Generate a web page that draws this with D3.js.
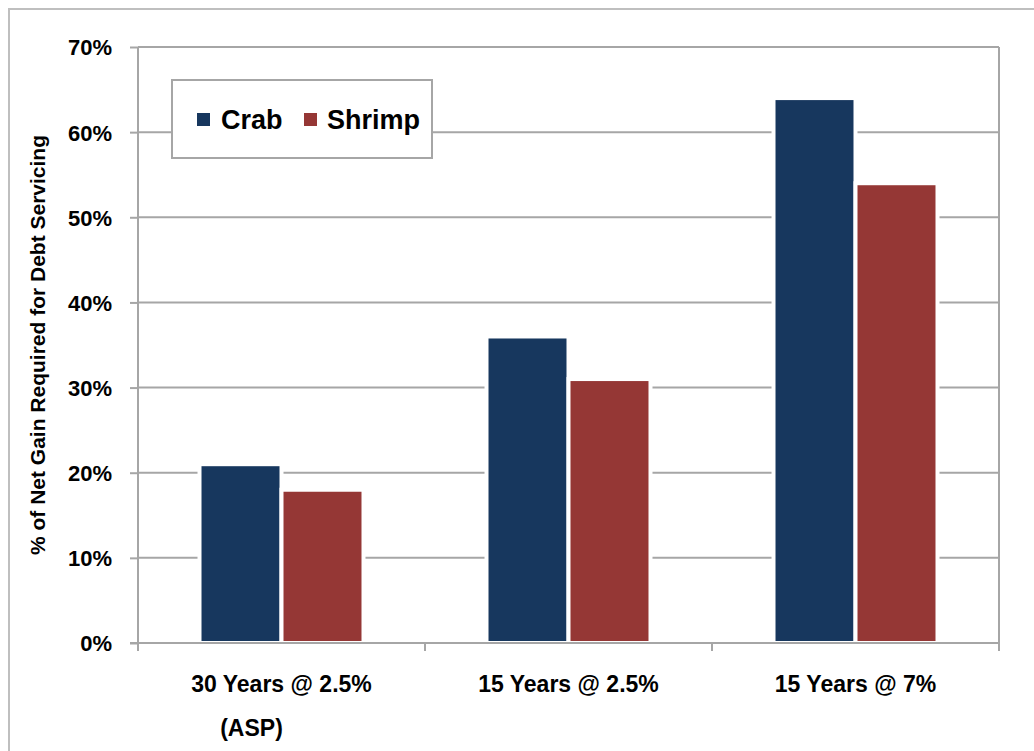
<!DOCTYPE html>
<html>
<head>
<meta charset="utf-8">
<script src="https://cdn.jsdelivr.net/npm/d3@7"></script>
<style>
  html, body { margin: 0; padding: 0; background: #fff; }
  svg { display: block; }
  text { font-family: "Liberation Sans", Arial, sans-serif; font-weight: bold; fill: #000; }
</style>
</head>
<body>
<svg id="chart" width="1034" height="751"></svg>
<script>
// Share of net gain needed to service the debt, by loan scenario
const categories = ["30 Years @ 2.5%", "15 Years @ 2.5%", "15 Years @ 7%"];
const categoryNotes = ["(ASP)", "", ""];
const seriesNames = ["Crab", "Shrimp"];
const crabValues = [21, 36, 64];
const shrimpValues = [18, 31, 54];
const yTickValues = [0, 10, 20, 30, 40, 50, 60, 70];

const seriesColors = { Crab: "#17375e", Shrimp: "#953735" };
const gridColor = "#a6a6a6";

const svg = d3.select("#chart");
const plot = { left: 138, right: 999, top: 47, bottom: 643 };

// outer chart frame
svg.append("rect")
  .attr("x", 9).attr("y", 9)
  .attr("width", 1100).attr("height", 800)
  .attr("fill", "#fff")
  .attr("stroke", "#bfbfbf").attr("stroke-width", 2);

const x = d3.scaleBand()
  .domain(categories)
  .range([plot.left, plot.right])
  .paddingInner(0.4286)
  .paddingOuter(0.2143);

const xSeries = d3.scaleBand()
  .domain(seriesNames)
  .range([0, x.bandwidth()]);

const y = d3.scaleLinear()
  .domain([0, 70])
  .range([plot.bottom, plot.top]);

// horizontal gridlines
svg.append("g")
  .selectAll("line")
  .data(yTickValues)
  .join("line")
  .attr("x1", plot.left).attr("x2", plot.right)
  .attr("y1", d => y(d)).attr("y2", d => y(d))
  .attr("stroke", gridColor).attr("stroke-width", 2);

// plot frame on the right
svg.append("line")
  .attr("x1", plot.right).attr("x2", plot.right)
  .attr("y1", plot.top).attr("y2", plot.bottom + 8)
  .attr("stroke", gridColor).attr("stroke-width", 2);

// bars
const rows = categories.map((c, i) => ({
  category: c,
  values: [
    { series: "Crab", value: crabValues[i] },
    { series: "Shrimp", value: shrimpValues[i] }
  ]
}));

svg.append("g")
  .selectAll("g")
  .data(rows)
  .join("g")
  .attr("transform", d => `translate(${x(d.category)},0)`)
  .selectAll("rect")
  .data(d => d.values)
  .join("rect")
  .attr("x", d => xSeries(d.series))
  .attr("y", d => y(d.value))
  .attr("width", xSeries.bandwidth())
  .attr("height", d => y(0) - y(d.value))
  .attr("fill", d => seriesColors[d.series])
  .attr("stroke", "#fff")
  .attr("stroke-width", 4);

// y axis
const yAxis = d3.axisLeft(y)
  .tickValues(yTickValues)
  .tickFormat(d => d + "%")
  .tickSize(8)
  .tickPadding(18);

const gy = svg.append("g")
  .attr("transform", `translate(${plot.left},0)`)
  .call(yAxis);
gy.select(".domain").attr("stroke", gridColor).attr("stroke-width", 2)
  .attr("d", `M0,${plot.top}V${plot.bottom + 8}`);
gy.selectAll(".tick line").attr("stroke", gridColor).attr("stroke-width", 2);
gy.selectAll(".tick text")
  .style("font-family", '"Liberation Sans", Arial, sans-serif')
  .style("font-weight", "bold")
  .attr("font-size", 22)
  .attr("fill", "#000")
  .attr("dy", "0.36em");

// x axis baseline and category separators
svg.append("line")
  .attr("x1", plot.left - 8).attr("x2", plot.right)
  .attr("y1", y(0)).attr("y2", y(0))
  .attr("stroke", gridColor).attr("stroke-width", 2);

const step = x.step();
svg.append("g")
  .selectAll("line")
  .data(d3.range(categories.length + 1))
  .join("line")
  .attr("x1", i => plot.left + i * step)
  .attr("x2", i => plot.left + i * step)
  .attr("y1", y(0)).attr("y2", y(0) + 8)
  .attr("stroke", gridColor).attr("stroke-width", 2);

// category labels
const labels = svg.append("g")
  .selectAll("g")
  .data(categories)
  .join("g")
  .attr("transform", d => `translate(${x(d) + x.bandwidth() / 2},0)`);

labels.append("text")
  .attr("y", 692)
  .attr("text-anchor", "middle")
  .attr("font-size", 23)
  .text(d => d);

labels.append("text")
  .attr("x", -30)
  .attr("y", 736)
  .attr("text-anchor", "middle")
  .attr("font-size", 23)
  .text((d, i) => categoryNotes[i]);

// y axis title
svg.append("text")
  .attr("transform", `translate(45,${(plot.top + plot.bottom) / 2}) rotate(-90)`)
  .attr("text-anchor", "middle")
  .attr("font-size", 21)
  .text("% of Net Gain Required for Debt Servicing");

// legend
const legend = svg.append("g");
legend.append("rect")
  .attr("x", 172).attr("y", 80)
  .attr("width", 260).attr("height", 78)
  .attr("fill", "#fff")
  .attr("stroke", "#a6a6a6").attr("stroke-width", 2);

const legendItems = [
  { name: seriesNames[0], mx: 197, tx: 221 },
  { name: seriesNames[1], mx: 304, tx: 327 }
];
const li = legend.selectAll("g")
  .data(legendItems)
  .join("g");
li.append("rect")
  .attr("x", d => d.mx).attr("y", 113)
  .attr("width", 13).attr("height", 13)
  .attr("fill", d => seriesColors[d.name]);
li.append("text")
  .attr("x", d => d.tx).attr("y", 129)
  .attr("font-size", 27)
  .text(d => d.name);
</script>
</body>
</html>
